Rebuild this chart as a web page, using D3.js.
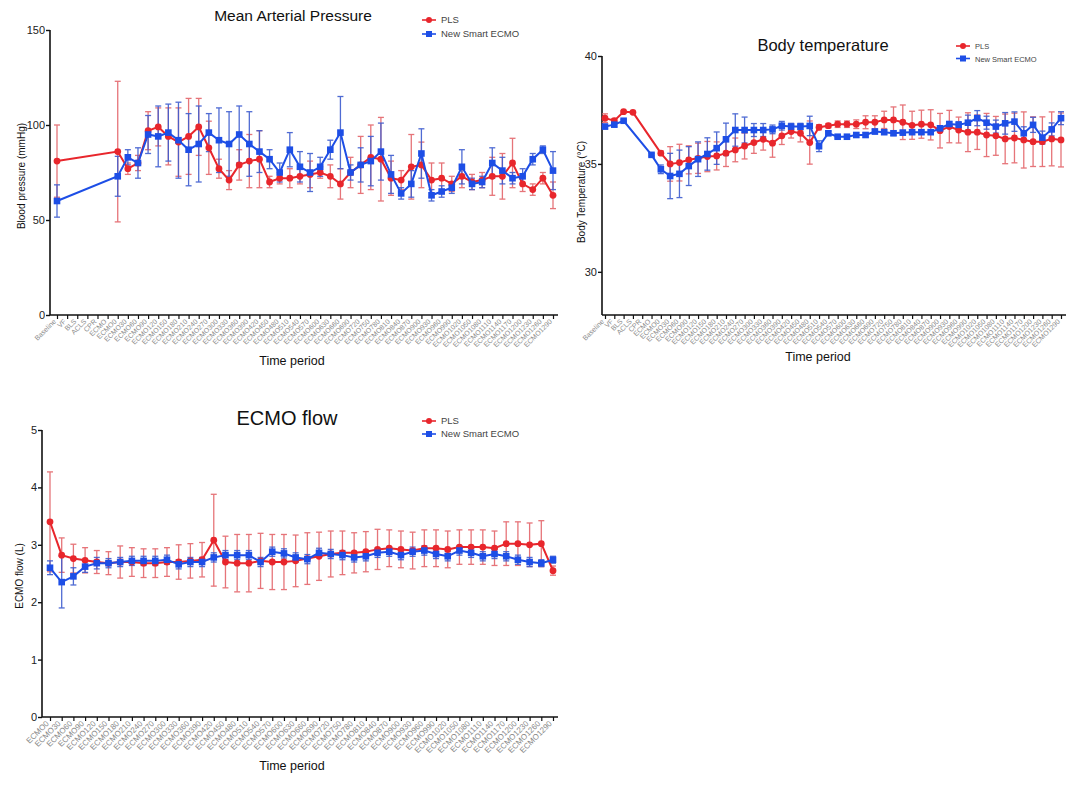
<!DOCTYPE html>
<html><head><meta charset="utf-8">
<script src="https://cdn.jsdelivr.net/npm/d3@7/dist/d3.min.js"></script>
<style>body{margin:0;background:#fff;}svg{display:block;font-family:"Liberation Sans",Arial,sans-serif;}</style>
</head><body>
<svg id="c" width="1090" height="787"></svg>
<script>
// ---------- DATA ----------
const ecmoLabels = ["ECMO0","ECMO30","ECMO60","ECMO90","ECMO120","ECMO150","ECMO180","ECMO210","ECMO240","ECMO270","ECMO300","ECMO330","ECMO360","ECMO390","ECMO420","ECMO450","ECMO480","ECMO510","ECMO540","ECMO570","ECMO600","ECMO630","ECMO660","ECMO690","ECMO720","ECMO750","ECMO780","ECMO810","ECMO840","ECMO870","ECMO900","ECMO930","ECMO960","ECMO990","ECMO1020","ECMO1050","ECMO1080","ECMO1110","ECMO1140","ECMO1170","ECMO1200","ECMO1230","ECMO1260","ECMO1290"];
const timeLabels = ["Baseline","VF","BLS","ACLS","CPR","ECMO"].concat(ecmoLabels);
const seriesNames = ["PLS","New Smart ECMO"];

// Mean arterial pressure (mmHg)
const mapPLS = [81,null,null,null,null,null,86,77,80,97,99,94,91,94,99,88,77,71,79,81,82,70,72,72,73,74,75,73,69,75,79,83,82,72,71,78,79,71,72,69,73,70,71,73,73,80,69,66,72,63];
const mapPLSsd = [19,null,null,null,null,null,37,3,4,10,10,15,18,20,15,14,5,5,8,14,15,3,3,5,4,7,3,6,8,8,15,17,22,9,5,17,12,9,8,4,6,4,4,10,12,13,4,3,3,7];
const mapSmart = [60,null,null,null,null,null,73,83,80,95,94,96,92,87,90,96,92,90,95,90,86,82,75,87,78,75,78,87,96,75,79,81,86,74,64,69,85,63,65,67,78,69,70,80,76,72,73,82,87,76];
const mapSmartSd = [8.5,null,null,null,null,null,10.5,4,8,10,16,15,20,19,20,10,17,17,15,17,11,5,5,9,8,10,5,5,19,4,9,13,15,10,3,7,13,3,3,3,9,3,3,8,7,3,4,3,2,10];
const mapTicks = [0,50,100,150];

// Body temperature (°C)
const tempPLS = [37.12,37.0,37.42,37.39,null,null,35.5,35.0,35.06,35.19,35.26,35.34,35.37,35.5,35.65,35.83,35.99,36.14,35.96,36.3,36.5,36.42,35.99,36.7,36.77,36.84,36.84,36.84,36.93,36.93,37.04,37.04,36.93,36.79,36.84,36.81,36.54,36.73,36.57,36.47,36.47,36.34,36.3,36.16,36.2,36.11,36.03,36.03,36.16,36.11];
const tempPLSsd = [0.2,0.1,0.05,0.05,null,null,0.1,0.8,0.85,0.65,0.7,0.7,0.65,0.62,0.55,0.6,0.5,0.5,0.65,0.4,0.3,0.4,1.0,0.12,0.1,0.15,0.15,0.2,0.3,0.3,0.4,0.6,0.8,0.65,0.65,0.7,0.8,0.75,0.6,0.9,0.8,1.0,0.9,1.15,1.15,1.3,1.15,1.15,1.25,1.25];
const tempSmart = [36.73,36.82,37.0,null,null,35.42,34.75,34.44,34.54,34.9,35.22,35.46,35.73,36.14,36.57,36.57,36.57,36.57,36.6,36.77,36.73,36.73,36.76,35.82,36.42,36.26,36.26,36.34,36.34,36.5,36.47,36.42,36.45,36.47,36.47,36.47,36.65,36.85,36.81,36.91,37.12,36.91,36.73,36.88,36.96,36.42,36.81,36.22,36.6,37.12];
const tempSmartSd = [0.1,0.1,0.05,null,null,0.05,0.2,1.05,1.1,0.9,0.8,0.75,0.75,0.75,0.75,0.6,0.3,0.3,0.2,0.2,0.15,0.15,0.45,0.25,0.1,0.05,0.05,0.1,0.1,0.1,0.1,0.1,0.1,0.1,0.1,0.1,0.1,0.1,0.15,0.35,0.35,0.3,0.3,0.5,0.45,0.3,0.35,0.3,0.3,0.3];
const tempTicks = [30,35,40];

// ECMO flow (L)
const flowPLS = [3.40,2.82,2.76,2.73,2.70,2.68,2.70,2.70,2.68,2.68,2.70,2.70,2.72,2.74,3.08,2.70,2.68,2.68,2.72,2.70,2.70,2.72,2.76,2.80,2.84,2.86,2.86,2.88,2.92,2.94,2.92,2.90,2.94,2.94,2.92,2.96,2.96,2.96,2.94,3.02,3.02,3.00,3.02,2.55];
const flowPLSsd = [0.87,0.30,0.25,0.22,0.20,0.20,0.28,0.25,0.25,0.25,0.25,0.30,0.30,0.30,0.80,0.45,0.50,0.50,0.48,0.48,0.48,0.45,0.45,0.42,0.40,0.38,0.35,0.35,0.35,0.32,0.32,0.32,0.32,0.32,0.32,0.30,0.30,0.30,0.30,0.38,0.38,0.38,0.40,0.08];
const flowSmart = [2.60,2.35,2.45,2.62,2.68,2.68,2.70,2.72,2.72,2.72,2.74,2.66,2.70,2.70,2.78,2.82,2.82,2.82,2.70,2.88,2.85,2.78,2.75,2.86,2.84,2.82,2.78,2.80,2.86,2.88,2.82,2.88,2.90,2.84,2.80,2.90,2.86,2.80,2.84,2.80,2.74,2.70,2.68,2.74];
const flowSmartSd = [0.12,0.45,0.15,0.10,0.10,0.08,0.08,0.08,0.08,0.08,0.08,0.08,0.08,0.08,0.08,0.08,0.08,0.08,0.08,0.08,0.08,0.08,0.08,0.08,0.08,0.08,0.08,0.08,0.08,0.08,0.08,0.08,0.08,0.08,0.08,0.08,0.08,0.08,0.08,0.08,0.08,0.08,0.06,0.06];
const flowTicks = [0,1,2,3,4,5];

// ---------- DRAW ----------
const RED = "#e8262c", RED_ERR = "#e4666b", BLUE = "#1d4ee6", BLUE_ERR = "#3d5ccf";
const svg = d3.select("#c");

function chart(o){
  const g = svg.append("g");
  const x = d3.scalePoint().domain(o.cats).range([o.first, o.last]);
  const y = d3.scaleLinear().domain(o.yDomain).range([o.bottom, o.top]);

  // axes
  g.append("line").attr("x1",o.axisX).attr("x2",o.axisX).attr("y1",o.top).attr("y2",o.bottom)
    .attr("stroke","#111").attr("stroke-width",1.6);
  g.append("line").attr("x1",o.axisX).attr("x2",o.axisEnd).attr("y1",o.bottom).attr("y2",o.bottom)
    .attr("stroke","#111").attr("stroke-width",1.6);

  const ya = d3.axisLeft(y).tickValues(o.yTicks).tickFormat(d3.format("d")).tickSize(4).tickSizeOuter(0);
  const yg = g.append("g").attr("transform",`translate(${o.axisX},0)`).call(ya);
  yg.select(".domain").remove();
  yg.selectAll("line").attr("stroke","#111").attr("stroke-width",1.4);
  yg.selectAll("text").attr("font-size",11).attr("fill","#222").attr("x",-5)
    .attr("font-family","Liberation Sans, Arial, sans-serif");

  const xa = d3.axisBottom(x).tickSize(4).tickSizeOuter(0);
  const xg = g.append("g").attr("transform",`translate(0,${o.bottom})`).call(xa);
  xg.select(".domain").remove();
  xg.selectAll("line").attr("stroke","#111").attr("stroke-width",1.2);
  xg.selectAll("text").attr("font-size",o.xFont).attr("fill","#8a8a8a")
    .attr("font-family","Liberation Sans, Arial, sans-serif")
    .attr("text-anchor","end").attr("dy",null).attr("y",0)
    .attr("transform","translate(-1,7) rotate(-45)");

  // titles
  g.append("text").attr("x",o.titleX).attr("y",o.titleY).attr("text-anchor","middle")
    .attr("font-size",o.titleSize).attr("fill","#111").text(o.title);
  g.append("text").attr("transform",`translate(${o.ylabX},${o.ylabY}) rotate(-90)`)
    .attr("text-anchor","middle").attr("font-size",10).attr("fill","#111").text(o.ylab);
  g.append("text").attr("x",o.xlabX).attr("y",o.xlabY).attr("text-anchor","middle")
    .attr("font-size",12.5).attr("fill","#111").text("Time period");

  const series = [
    {vals:o.s1, sd:o.s1sd, color:RED, err:RED_ERR, shape:"circle"},
    {vals:o.s2, sd:o.s2sd, color:BLUE, err:BLUE_ERR, shape:"square"}
  ];
  series.forEach(s=>{
    const pts = o.cats.map((c,i)=>({c, v:s.vals[i], sd:s.sd[i]})).filter(d=>d.v!=null);
    const eg = g.append("g").attr("stroke",s.err).attr("stroke-width",1.3).attr("opacity",0.9);
    pts.forEach(d=>{
      if(!d.sd) return;
      const cx = x(d.c), y1 = y(d.v - d.sd), y2 = y(d.v + d.sd);
      eg.append("line").attr("x1",cx).attr("x2",cx).attr("y1",y1).attr("y2",y2);
      eg.append("line").attr("x1",cx-3).attr("x2",cx+3).attr("y1",y1).attr("y2",y1);
      eg.append("line").attr("x1",cx-3).attr("x2",cx+3).attr("y1",y2).attr("y2",y2);
    });
  });
  series.forEach(s=>{
    const pts = o.cats.map((c,i)=>({c, v:s.vals[i]})).filter(d=>d.v!=null);
    g.append("path").datum(pts)
      .attr("d", d3.line().x(d=>x(d.c)).y(d=>y(d.v)))
      .attr("fill","none").attr("stroke",s.color).attr("stroke-width",2);
    pts.forEach(d=>{
      if(s.shape==="circle") g.append("circle").attr("cx",x(d.c)).attr("cy",y(d.v)).attr("r",3.4).attr("fill",s.color);
      else g.append("rect").attr("x",x(d.c)-3.3).attr("y",y(d.v)-3.3).attr("width",6.6).attr("height",6.6).attr("fill",s.color);
    });
  });

  // legend
  const lg = g.append("g");
  seriesNames.forEach((n,i)=>{
    const ly = o.legY + i*o.legGap;
    const col = i===0?RED:BLUE;
    lg.append("line").attr("x1",o.legX-7).attr("x2",o.legX+7).attr("y1",ly).attr("y2",ly).attr("stroke",col).attr("stroke-width",1.6);
    if(i===0) lg.append("circle").attr("cx",o.legX).attr("cy",ly).attr("r",3).attr("fill",col);
    else lg.append("rect").attr("x",o.legX-3).attr("y",ly-3).attr("width",6).attr("height",6).attr("fill",col);
    lg.append("text").attr("x",o.legX+12).attr("y",ly+3).attr("font-size",o.legFont).attr("fill","#444").text(n);
  });
}

chart({cats:timeLabels, s1:mapPLS, s1sd:mapPLSsd, s2:mapSmart, s2sd:mapSmartSd,
  yDomain:[0,150], yTicks:mapTicks, top:30, bottom:315, axisX:50, axisEnd:558, first:57, last:553, xFont:7,
  title:"Mean Arterial Pressure", titleX:293, titleY:21, titleSize:15.5,
  ylab:"Blood pressure (mmHg)", ylabX:25, ylabY:176, xlabX:292, xlabY:365,
  legX:429, legY:20, legGap:14, legFont:9.5});

chart({cats:timeLabels, s1:tempPLS, s1sd:tempPLSsd, s2:tempSmart, s2sd:tempSmartSd,
  yDomain:[28,40], yTicks:tempTicks, top:56, bottom:315, axisX:602, axisEnd:1066, first:605, last:1061, xFont:7,
  title:"Body temperature", titleX:823, titleY:51, titleSize:16.5,
  ylab:"Body Temperature (°C)", ylabX:585, ylabY:192, xlabX:818, xlabY:361,
  legX:963, legY:46, legGap:12.5, legFont:7.5});

chart({cats:ecmoLabels, s1:flowPLS, s1sd:flowPLSsd, s2:flowSmart, s2sd:flowSmartSd,
  yDomain:[0,5], yTicks:flowTicks, top:430, bottom:717, axisX:42, axisEnd:558, first:50, last:553, xFont:8,
  title:"ECMO flow", titleX:287, titleY:425, titleSize:20,
  ylab:"ECMO flow (L)", ylabX:23, ylabY:576, xlabX:292, xlabY:770,
  legX:429, legY:421, legGap:13, legFont:9.5});
</script>
</body></html>
